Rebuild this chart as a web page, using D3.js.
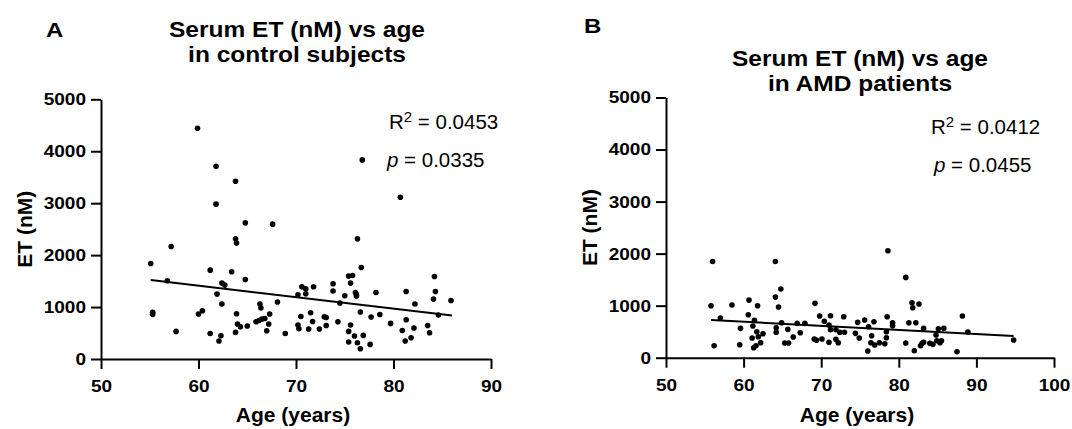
<!DOCTYPE html>
<html>
<head>
<meta charset="utf-8">
<script src="https://cdn.jsdelivr.net/npm/d3@7"></script>
<style>
body { margin: 0; background: #fff; }
text { font-family: "Liberation Sans", Arial, sans-serif; fill: #000; }
</style>
</head>
<body>
<svg width="1072" height="429"></svg>
<script>
// control subjects (panel A)
const ctrlAge = [59.9,61.8,63.8,61.8,64.8,67.6,76.8,80.7,57.2,63.8,
    63.9,55.1,61.2,63.4,64.8,56.8,62.4,62.7,61.9,62.4,
    55.3,55.3,60.0,60.4,57.7,61.2,62.3,62.1,63.9,64.0,
    64.3,63.8,65.0,66.3,66.4,65.9,66.2,66.5,66.8,67.3,
    67.2,67.0,68.1,68.9,70.2,70.6,71.0,71.0,70.5,70.2,
    70.3,71.3,76.3,76.7,75.4,75.8,75.6,73.8,73.8,71.8,
    75.0,76.1,76.2,76.2,74.5,78.2,81.3,82.2,84.2,84.3,
    84.1,85.9,84.6,76.6,77.7,78.6,79.7,81.3,80.9,82.1,
    81.8,81.2,83.5,83.7,71.5,71.7,72.9,73.1,73.1,72.4,
    74.3,75.6,75.4,76.0,76.9,75.4,76.3,77.6,76.6];
const ctrlET = [4442,3712,3423,2981,2621,2596,3833,3115,2166,2313,
    2231,1838,1711,1679,1531,1506,1461,1423,1250,1058,
    900,860,865,929,531,492,448,346,871,673,
    621,512,635,1058,981,717,742,769,781,865,
    673,544,1096,492,1237,1390,1352,1256,819,654,
    583,577,2313,1762,1596,1608,1461,1448,1308,1390,
    1217,1281,1242,1212,1077,1281,1300,1058,1588,1300,
    1154,1127,846,904,808,858,685,756,550,596,
    410,346,646,506,890,723,813,800,646,577,
    717,654,531,442,454,327,313,281,198];
const ctrlFitAge = [55.1, 86.0];
const ctrlFitET = [1520, 838];

// AMD patients (panel B)
const amdAge = [56.0,64.1,64.8,64.1,64.5,60.7,61.8,58.5,55.8,57.0,
    60.6,61.4,59.6,61.2,61.7,62.5,61.1,61.9,62.2,61.6,
    61.3,59.5,56.2,64.2,64.2,64.9,65.7,65.3,65.8,66.4,
    66.9,67.3,67.9,69.2,69.8,71.2,70.4,71.0,69.1,69.4,
    70.1,71.0,71.2,71.9,71.9,72.2,72.4,73.0,72.9,74.4,
    74.9,74.7,75.6,76.1,76.8,76.5,76.4,76.9,76.0,77.5,
    78.6,80.9,81.7,82.6,81.8,78.5,79.2,79.2,81.3,82.2,
    88.2,83.2,85.1,85.8,88.9,78.4,78.4,78.2,80.9,82.0,
    82.8,83.0,83.2,84.0,84.4,84.8,84.9,85.3,85.5,87.5,
    94.8];
const amdET = [1850,1850,1319,1165,973,1107,998,1012,998,762,
    825,718,564,608,499,461,378,403,288,230,
    192,250,230,576,488,672,545,282,282,397,
    660,480,660,1044,800,806,699,628,359,334,
    359,296,537,537,353,288,488,488,787,468,
    378,679,724,595,691,422,288,244,129,288,
    2054,1543,1056,1031,960,787,672,614,672,672,
    800,564,557,564,493,499,384,269,282,134,
    230,276,296,276,257,436,326,288,326,115,
    340];
const amdFitAge = [55.8, 94.8];
const amdFitET = [725, 417];

const xTicksA = [50, 60, 70, 80, 90];
const xTicksB = [50, 60, 70, 80, 90, 100];
const yTicks = [0, 1000, 2000, 3000, 4000, 5000];

const svg = d3.select("svg");

// bold text in the figure is a bit wider than Arial, so stretch it horizontally
function boldText(g, x, y, str, size, sx, rot) {
    return g.append("text")
        .attr("transform", "translate(" + x + "," + y + ")" + (rot ? " rotate(" + rot + ")" : "") + " scale(" + sx + ",1)")
        .attr("text-anchor", "middle")
        .attr("font-weight", "bold")
        .attr("font-size", size)
        .text(str);
}

function drawPanel(p) {
    const x = d3.scaleLinear().domain([p.xTicks[0], p.xTicks[p.xTicks.length - 1]]).range([p.left, p.right]);
    const y = d3.scaleLinear().domain([0, 5000]).range([p.bottom, p.top]);
    const g = svg.append("g");
    const tickSx = 1.12;

    const yAxis = g.append("g")
        .attr("transform", "translate(" + p.left + ",0)")
        .call(d3.axisLeft(y).tickValues(yTicks).tickFormat(d3.format("d")).tickSize(10).tickSizeOuter(0));
    const xAxis = g.append("g")
        .attr("transform", "translate(0," + p.bottom + ")")
        .call(d3.axisBottom(x).tickValues(p.xTicks).tickFormat(d3.format("d")).tickSize(10).tickSizeOuter(0));

    [yAxis, xAxis].forEach(function (a) {
        a.attr("font-family", null).attr("font-size", null);
        a.selectAll("path, line").attr("stroke", "#000").attr("stroke-width", 2);
        a.selectAll("text").attr("font-weight", "bold").attr("font-size", 17).attr("fill", "#000");
    });
    yAxis.selectAll("text")
        .attr("x", -15 / tickSx)
        .attr("transform", "scale(" + tickSx + ",1)");
    xAxis.selectAll("text")
        .attr("y", 33.5).attr("dy", null)
        .attr("transform", "scale(" + tickSx + ",1)");

    // points
    g.append("g").selectAll("circle")
        .data(d3.zip(p.age, p.et))
        .enter().append("circle")
        .attr("cx", function (d) { return x(d[0]); })
        .attr("cy", function (d) { return y(d[1]); })
        .attr("r", 2.8)
        .attr("fill", "#000");

    // regression line
    g.append("path")
        .datum(d3.zip(p.fitAge, p.fitET))
        .attr("d", d3.line().x(function (d) { return x(d[0]); }).y(function (d) { return y(d[1]); }))
        .attr("stroke", "#000")
        .attr("stroke-width", 2)
        .attr("fill", "none");

    // titles
    const cx = (p.left + p.right) / 2 - 3;
    boldText(g, p.titleX, p.titleY, "Serum ET (nM) vs age", 21.5, 1.14);
    boldText(g, p.titleX, p.titleY + 24.5, p.title2, 21.5, 1.14);
    boldText(g, p.letterX, p.letterY, p.letter, 20, 1.2).attr("text-anchor", "start");
    boldText(g, cx, 422, "Age (years)", 21, 1.0);
    boldText(g, p.yLabelX, (p.top + p.bottom) / 2, "ET (nM)", 21, 1.0, -90);

    // stats
    const r2 = g.append("text").attr("x", p.statX).attr("y", p.statY).attr("font-size", 20.5);
    r2.append("tspan").text("R");
    r2.append("tspan").attr("font-size", 15).attr("dy", -7.5).text("2");
    r2.append("tspan").attr("dy", 7.5).text(" = " + p.r2);
    const pv = g.append("text").attr("x", p.statX + p.pShift).attr("y", p.statY + 38).attr("font-size", 20.5);
    pv.append("tspan").attr("font-style", "italic").text("p");
    pv.append("tspan").text(" = " + p.pval);
}

drawPanel({
    age: ctrlAge, et: ctrlET, fitAge: ctrlFitAge, fitET: ctrlFitET,
    xTicks: xTicksA, left: 101, right: 491, top: 99.3, bottom: 359,
    letter: "A", letterX: 46, letterY: 37,
    title2: "in control subjects", titleX: 297, titleY: 37,
    yLabelX: 32, statX: 389, statY: 129, pShift: -2,
    r2: "0.0453", pval: "0.0335"
});

drawPanel({
    age: amdAge, et: amdET, fitAge: amdFitAge, fitET: amdFitET,
    xTicks: xTicksB, left: 666, right: 1054, top: 97.5, bottom: 357.7,
    letter: "B", letterX: 584, letterY: 33,
    title2: "in AMD patients", titleX: 860, titleY: 66,
    yLabelX: 597, statX: 931, statY: 134, pShift: 3,
    r2: "0.0412", pval: "0.0455"
});
</script>
</body>
</html>
